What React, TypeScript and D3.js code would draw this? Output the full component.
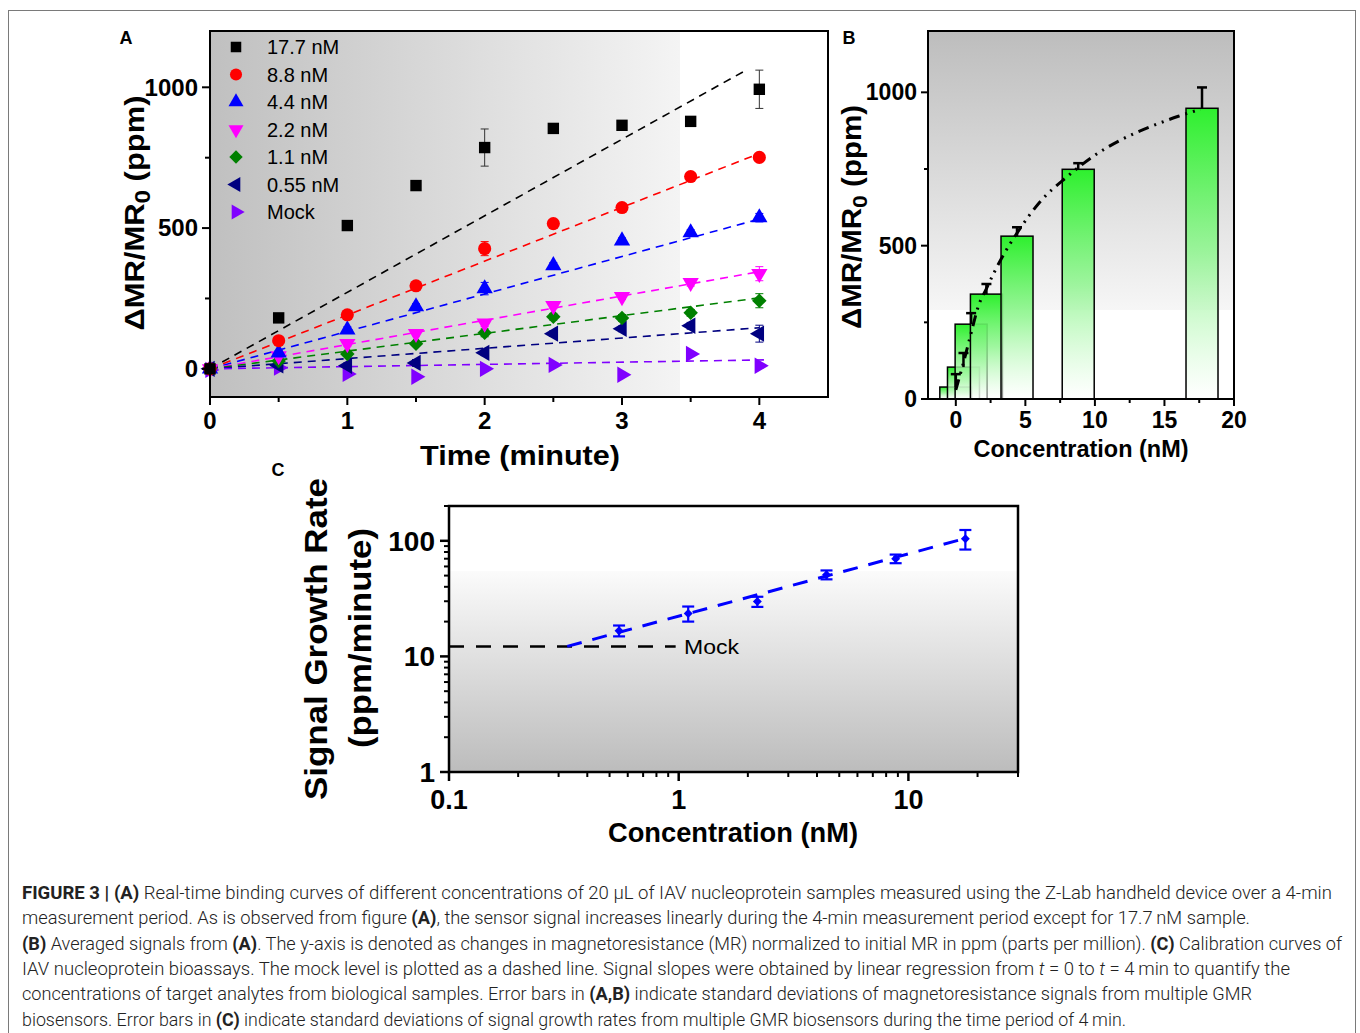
import React from "react";
import * as d3 from "d3";

// ---------- Panel A data ----------
const timeA = [0, 0.5, 1, 1.5, 2, 2.5, 3, 3.5, 4];
const seriesNames = ["17.7 nM", "8.8 nM", "4.4 nM", "2.2 nM", "1.1 nM", "0.55 nM", "Mock"];
const s177 = [0, 181, 509, 651, 786, 854, 865, 879, 993];
const s88 = [0, 100, 192, 295, 427, 516, 573, 683, 751];
const s44 = [0, 57, 139, 221, 285, 367, 455, 484, 537];
const s22 = [0, 46, 89, 125, 162, 224, 256, 306, 338];
const s11 = [0, 28, 53, 89, 128, 185, 181, 199, 242];
const s055 = [0, 12, 11, 21, 57, 125, 142, 153, 125];
const sMock = [-4, 4, -18, -28, 0, 14, -21, 53, 11];
const e177 = [5, 10, 12, 10, 66, 15, 15, 15, 68];
const e88 = [5, 10, 12, 12, 25, 12, 10, 12, 10];
const e44 = [5, 8, 10, 10, 22, 10, 10, 10, 15];
const e22 = [5, 8, 8, 8, 12, 10, 10, 12, 25];
const e11 = [5, 8, 8, 8, 14, 12, 12, 12, 25];
const e055 = [5, 8, 10, 12, 10, 10, 10, 12, 30];
const eMock = [5, 8, 8, 8, 8, 8, 8, 8, 8];
const fitEndT = [3.9, 4, 4, 4, 4, 4, 4.05];
const fitEndV = [1060, 765, 532, 345, 252, 146, 32];
const colorsA = ["#000000", "#ff0000", "#0000ff", "#ff00ff", "#008000", "#000080", "#8000ff"];
const shapesA = ["square", "circle", "up", "down", "diamond", "left", "right"];
const valuesA = [s177, s88, s44, s22, s11, s055, sMock];
const errorsA = [e177, e88, e44, e22, e11, e055, eMock];
const ticksAx = [0, 1, 2, 3, 4];
const ticksAy = [0, 500, 1000];

// ---------- Panel B data ----------
const concB = [0, 0.55, 1.1, 2.2, 4.4, 8.8, 17.7];
const meanB = [39, 104, 244, 342, 531, 749, 948];
const errB = [42, 46, 36, 33, 29, 20, 68];
const curveBx = [0, 0.5, 1.1, 1.6, 2.2, 3.3, 4.4, 6, 8, 10, 12, 14, 16, 17.6];
const curveBy = [30, 110, 215, 300, 360, 460, 541, 640, 725, 795, 848, 888, 922, 945];
const ticksBx = [0, 5, 10, 15, 20];
const ticksBy = [0, 500, 1000];

// ---------- Panel C data ----------
const concC = [0.55, 1.1, 2.2, 4.4, 8.8, 17.7];
const rateC = [16.7, 23.5, 29.8, 50.9, 70, 104];
const errC = [1.8, 3.5, 3, 4.5, 6, 20];
const fitCx = [0.327, 17.7];
const fitCy = [12.2, 105];
const mockRate = 12.2;
const mockCx = [0.1, 0.97];
const ticksCx = [0.1, 1, 10];
const ticksCy = [1, 10, 100];

const FONT = "'Liberation Sans', Arial, Helvetica, sans-serif";

function Marker({ shape, x, y, color, size = 1 }: any) {
  let path = "";
  let rot = 0;
  if (shape === "square") path = d3.symbol(d3.symbolSquare, 130 * size)()!;
  else if (shape === "circle") path = d3.symbol(d3.symbolCircle, 135 * size)()!;
  else if (shape === "diamond") { path = d3.symbol(d3.symbolSquare, 105 * size)()!; rot = 45; }
  else {
    path = d3.symbol(d3.symbolTriangle, 115 * size)()!;
    rot = shape === "up" ? 0 : shape === "down" ? 180 : shape === "left" ? -90 : 90;
  }
  return <path d={path} transform={`translate(${x},${y}) rotate(${rot})`} fill={color} />;
}

function PanelA() {
  const L = 210, R = 828, T = 31, B = 397;
  const x = d3.scaleLinear().domain([0, 4.5]).range([L, R]);
  const y = d3.scaleLinear().domain([-100, 1200]).range([B, T]);
  const minorX = d3.range(0.5, 4.5, 1);
  const minorY = [250, 750];
  return (
    <g fontFamily={FONT}>
      <defs>
        <linearGradient id="bgA" x1="0" x2="1" y1="0" y2="0">
          <stop offset="0" stopColor="#c0c0c0" />
          <stop offset="1" stopColor="#f4f4f4" />
        </linearGradient>
      </defs>
      <rect x={L} y={T} width={680 - L} height={B - T} fill="url(#bgA)" />
      <rect x={680} y={T} width={R - 680} height={B - T} fill="#ffffff" />
      {/* fit lines */}
      {valuesA.map((v, i) => (
        <line key={"f" + i} x1={x(0)} y1={y(0)} x2={x(fitEndT[i])} y2={y(fitEndV[i])}
          stroke={colorsA[i]} strokeWidth={1.6} strokeDasharray="8,6" />
      ))}
      {/* error bars */}
      {valuesA.map((v, i) => v.map((d, j) => {
        const e = errorsA[i][j];
        const cx = x(timeA[j]);
        return (
          <g key={`e${i}-${j}`} stroke={i === 0 ? "#333" : colorsA[i]} strokeWidth={1}>
            <line x1={cx} x2={cx} y1={y(d - e)} y2={y(d + e)} />
            <line x1={cx - 4} x2={cx + 4} y1={y(d - e)} y2={y(d - e)} />
            <line x1={cx - 4} x2={cx + 4} y1={y(d + e)} y2={y(d + e)} />
          </g>
        );
      }))}
      {/* markers (draw Mock first, 17.7 last) */}
      {valuesA.map((v, i) => i).reverse().map((i) =>
        valuesA[i].map((d, j) => (
          <Marker key={`m${i}-${j}`} shape={shapesA[i]} x={x(timeA[j])} y={y(d)} color={colorsA[i]} />
        ))
      )}
      {/* legend */}
      {seriesNames.map((n, i) => (
        <g key={"l" + i}>
          <Marker shape={shapesA[i]} x={236} y={47 + i * 27.5} color={colorsA[i]} size={0.85} />
          <text x={267} y={47 + i * 27.5} dy="0.35em" fontSize={20}>{n}</text>
        </g>
      ))}
      {/* frame */}
      <rect x={L} y={T} width={R - L} height={B - T} fill="none" stroke="#000" strokeWidth={2} />
      {/* ticks */}
      {ticksAx.map((t) => (
        <g key={"tx" + t}>
          <line x1={x(t)} x2={x(t)} y1={B} y2={B + 8} stroke="#000" strokeWidth={2} />
          <text x={x(t)} y={421} dy="0.35em" textAnchor="middle" fontSize={24} fontWeight="bold">{t}</text>
        </g>
      ))}
      {minorX.map((t) => (
        <line key={"mx" + t} x1={x(t)} x2={x(t)} y1={B} y2={B + 5} stroke="#000" strokeWidth={2} />
      ))}
      {ticksAy.map((t) => (
        <g key={"ty" + t}>
          <line x1={L - 8} x2={L} y1={y(t)} y2={y(t)} stroke="#000" strokeWidth={2} />
          <text x={198} y={y(t)} dy="0.35em" textAnchor="end" fontSize={24} fontWeight="bold">{t}</text>
        </g>
      ))}
      {minorY.map((t) => (
        <line key={"my" + t} x1={L - 5} x2={L} y1={y(t)} y2={y(t)} stroke="#000" strokeWidth={2} />
      ))}
      <text x={520} y={465} textAnchor="middle" fontSize={28} fontWeight="bold" textLength={200} lengthAdjust="spacingAndGlyphs">Time (minute)</text>
      <text transform="translate(144,213) rotate(-90)" textAnchor="middle" fontSize={28} fontWeight="bold" textLength={235} lengthAdjust="spacingAndGlyphs">
        ΔMR/MR<tspan fontSize={22} dy={6}>0</tspan><tspan dy={-6}> (ppm)</tspan>
      </text>
      <text x={126} y={38} dy="0.35em" textAnchor="middle" fontSize={18} fontWeight="bold">A</text>
    </g>
  );
}

function PanelB() {
  const L = 928, R = 1234, T = 31, B = 399;
  const x = d3.scaleLinear().domain([-2, 20]).range([L, R]);
  const y = d3.scaleLinear().domain([0, 1200]).range([B, T]);
  const barW = x(2.3) - x(0);
  const line = d3.line<number>().x((d, i) => x(curveBx[i])).y((d) => y(d)).curve(d3.curveMonotoneX);
  const minorX = [2.5, 7.5, 12.5, 17.5];
  const minorY = [250, 750];
  return (
    <g fontFamily={FONT}>
      <defs>
        <linearGradient id="bgB" x1="0" x2="0" y1="0" y2="1">
          <stop offset="0" stopColor="#bdbdbd" />
          <stop offset="1" stopColor="#f6f6f6" />
        </linearGradient>
        <linearGradient id="barG" x1="0" x2="0" y1="0" y2="1">
          <stop offset="0" stopColor="#2ef02e" stopOpacity={1} />
          <stop offset="0.5" stopColor="#8ef58e" stopOpacity={0.85} />
          <stop offset="1" stopColor="#ffffff" stopOpacity={0.55} />
        </linearGradient>
      </defs>
      <rect x={L} y={T} width={R - L} height={310 - T} fill="url(#bgB)" />
      <rect x={L} y={310} width={R - L} height={B - 310} fill="#ffffff" />
      {concB.map((c, i) => (
        <rect key={"b" + i} x={x(c) - barW / 2} y={y(meanB[i])} width={barW} height={B - y(meanB[i])}
          fill="url(#barG)" stroke="#000" strokeWidth={1.5} />
      ))}
      <path d={line(curveBy)!} fill="none" stroke="#000" strokeWidth={3} strokeDasharray="11,6,2,6,2,6" />
      {concB.map((c, i) => (
        <g key={"eb" + i} stroke="#000" strokeWidth={2.5}>
          <line x1={x(c)} x2={x(c)} y1={y(meanB[i])} y2={y(meanB[i] + errB[i])} />
          <line x1={x(c) - 5} x2={x(c) + 5} y1={y(meanB[i] + errB[i])} y2={y(meanB[i] + errB[i])} />
        </g>
      ))}
      <rect x={L} y={T} width={R - L} height={B - T} fill="none" stroke="#000" strokeWidth={2} />
      {ticksBx.map((t) => (
        <g key={"tx" + t}>
          <line x1={x(t)} x2={x(t)} y1={B} y2={B + 7} stroke="#000" strokeWidth={2} />
          <text x={x(t)} y={420} dy="0.35em" textAnchor="middle" fontSize={23} fontWeight="bold">{t}</text>
        </g>
      ))}
      {minorX.map((t) => (
        <line key={"mx" + t} x1={x(t)} x2={x(t)} y1={B} y2={B + 4} stroke="#000" strokeWidth={2} />
      ))}
      {ticksBy.map((t) => (
        <g key={"ty" + t}>
          <line x1={L - 7} x2={L} y1={y(t)} y2={y(t)} stroke="#000" strokeWidth={2} />
          <text x={917} y={y(t)} dy="0.35em" textAnchor="end" fontSize={23} fontWeight="bold">{t}</text>
        </g>
      ))}
      {minorY.map((t) => (
        <line key={"my" + t} x1={L - 4} x2={L} y1={y(t)} y2={y(t)} stroke="#000" strokeWidth={2} />
      ))}
      <text x={1081} y={457} textAnchor="middle" fontSize={23} fontWeight="bold" textLength={215} lengthAdjust="spacingAndGlyphs">Concentration (nM)</text>
      <text transform="translate(861,217) rotate(-90)" textAnchor="middle" fontSize={27} fontWeight="bold" textLength={224} lengthAdjust="spacingAndGlyphs">
        ΔMR/MR<tspan fontSize={21} dy={6}>0</tspan><tspan dy={-6}> (ppm)</tspan>
      </text>
      <text x={849} y={38} dy="0.35em" textAnchor="middle" fontSize={18} fontWeight="bold">B</text>
    </g>
  );
}

function PanelC() {
  const L = 449, R = 1018, T = 506, B = 772;
  const x = d3.scaleLog().domain([0.1, 30]).range([L, R]);
  const y = d3.scaleLog().domain([1, 200]).range([B, T]);
  const minorX = [0.2, 0.3, 0.4, 0.5, 0.6, 0.7, 0.8, 0.9, 2, 3, 4, 5, 6, 7, 8, 9, 20, 30];
  const minorY = [2, 3, 4, 5, 6, 7, 8, 9, 20, 30, 40, 50, 60, 70, 80, 90, 200];
  const gStart = 571;
  return (
    <g fontFamily={FONT}>
      <defs>
        <linearGradient id="bgC" x1="0" x2="0" y1="0" y2="1">
          <stop offset="0" stopColor="#fbfbfb" />
          <stop offset="1" stopColor="#bcbcbc" />
        </linearGradient>
      </defs>
      <rect x={L} y={T} width={R - L} height={gStart - T} fill="#ffffff" />
      <rect x={L} y={gStart} width={R - L} height={B - gStart} fill="url(#bgC)" />
      <line x1={x(mockCx[0])} x2={x(mockCx[1])} y1={y(mockRate)} y2={y(mockRate)} stroke="#000" strokeWidth={2.5} strokeDasharray="15,12" />
      <text x={684} y={y(mockRate)} dy="0.35em" fontSize={21} textLength={55} lengthAdjust="spacingAndGlyphs">Mock</text>
      <line x1={x(fitCx[0])} y1={y(fitCy[0])} x2={x(fitCx[1])} y2={y(fitCy[1])} stroke="#0000ff" strokeWidth={3} strokeDasharray="15,11" />
      {concC.map((c, i) => (
        <g key={"c" + i} stroke="#0000ff" strokeWidth={2.2}>
          <line x1={x(c)} x2={x(c)} y1={y(rateC[i] - errC[i])} y2={y(rateC[i] + errC[i])} />
          <line x1={x(c) - 6} x2={x(c) + 6} y1={y(rateC[i] - errC[i])} y2={y(rateC[i] - errC[i])} />
          <line x1={x(c) - 6} x2={x(c) + 6} y1={y(rateC[i] + errC[i])} y2={y(rateC[i] + errC[i])} />
          <path d={d3.symbol(d3.symbolSquare, 40)()!} transform={`translate(${x(c)},${y(rateC[i])}) rotate(45)`} fill="#0000ff" stroke="none" />
        </g>
      ))}
      <rect x={L} y={T} width={R - L} height={B - T} fill="none" stroke="#000" strokeWidth={2.5} />
      {ticksCx.map((t) => (
        <g key={"tx" + t}>
          <line x1={x(t)} x2={x(t)} y1={B} y2={B + 9} stroke="#000" strokeWidth={2.5} />
          <text x={x(t)} y={800} dy="0.35em" textAnchor="middle" fontSize={27} fontWeight="bold">{t}</text>
        </g>
      ))}
      {minorX.map((t) => (
        <line key={"mx" + t} x1={x(t)} x2={x(t)} y1={B} y2={B + 5} stroke="#000" strokeWidth={2} />
      ))}
      {ticksCy.map((t) => (
        <g key={"ty" + t}>
          <line x1={L - 9} x2={L} y1={y(t)} y2={y(t)} stroke="#000" strokeWidth={2.5} />
          <text x={435} y={y(t)} dy="0.35em" textAnchor="end" fontSize={28} fontWeight="bold">{t}</text>
        </g>
      ))}
      {minorY.map((t) => (
        <line key={"my" + t} x1={L - 5} x2={L} y1={y(t)} y2={y(t)} stroke="#000" strokeWidth={2} />
      ))}
      <text x={733} y={842} textAnchor="middle" fontSize={27} fontWeight="bold" textLength={250} lengthAdjust="spacingAndGlyphs">Concentration (nM)</text>
      <text transform="translate(327,639) rotate(-90)" textAnchor="middle" fontSize={31} fontWeight="bold" textLength={322} lengthAdjust="spacingAndGlyphs">Signal Growth Rate</text>
      <text transform="translate(371,638) rotate(-90)" textAnchor="middle" fontSize={31} fontWeight="bold" textLength={220} lengthAdjust="spacingAndGlyphs">(ppm/minute)</text>
      <text x={278} y={470} dy="0.35em" textAnchor="middle" fontSize={18} fontWeight="bold">C</text>
    </g>
  );
}

type Seg = { t: string; b?: boolean; i?: boolean };
const captionLines: Seg[][] = [
  [{ t: "FIGURE 3 | (A)", b: true }, { t: " Real-time binding curves of different concentrations of 20 \u00b5L of IAV nucleoprotein samples measured using the Z-Lab handheld device over a 4-min" }],
  [{ t: "measurement period. As is observed from figure " }, { t: "(A)", b: true }, { t: ", the sensor signal increases linearly during the 4-min measurement period except for 17.7\u2009nM sample." }],
  [{ t: "(B)", b: true }, { t: " Averaged signals from " }, { t: "(A)", b: true }, { t: ". The y-axis is denoted as changes in magnetoresistance (MR) normalized to initial MR in ppm (parts per million). " }, { t: "(C)", b: true }, { t: " Calibration curves of" }],
  [{ t: "IAV nucleoprotein bioassays. The mock level is plotted as a dashed line. Signal slopes were obtained by linear regression from " }, { t: "t", i: true }, { t: " = 0 to " }, { t: "t", i: true }, { t: " = 4\u2009min to quantify the" }],
  [{ t: "concentrations of target analytes from biological samples. Error bars in " }, { t: "(A,B)", b: true }, { t: " indicate standard deviations of magnetoresistance signals from multiple GMR" }],
  [{ t: "biosensors. Error bars in " }, { t: "(C)", b: true }, { t: " indicate standard deviations of signal growth rates from multiple GMR biosensors during the time period of 4\u2009min." }],
];
const captionEnds = [1332, 1250, 1342, 1290, 1252, 1126];

function Caption() {
  return (
    <g fontFamily="Roboto, 'Liberation Sans', Arial, sans-serif" fontSize={17.5} fill="#222">
      {captionLines.map((segs, li) => (
        <text key={li} x={22} y={899 + li * 25.3} textLength={captionEnds[li] - 22} lengthAdjust="spacingAndGlyphs" fontWeight={300}>
          {segs.map((s, si) => (
            <tspan key={si} fontWeight={s.b ? "bold" : 300} fontStyle={s.i ? "italic" : "normal"}>{s.t}</tspan>
          ))}
        </text>
      ))}
    </g>
  );
}

export default function App() {
  return (
    <svg width={1360} height={1033} viewBox="0 0 1360 1033"
      style={{ position: "fixed", left: 0, top: 0, background: "#fff" }}>
      <rect x={0} y={0} width={1360} height={1033} fill="#ffffff" />
      <rect x={8.5} y={10.5} width={1347} height={1040} fill="none" stroke="#7a7a7a" strokeWidth={1} />
      <PanelA />
      <PanelB />
      <PanelC />
      <Caption />
    </svg>
  );
}
